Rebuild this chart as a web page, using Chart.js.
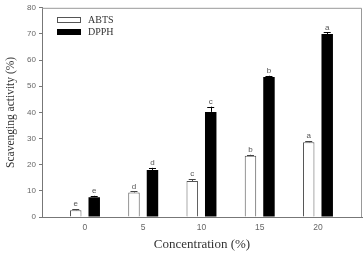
<!DOCTYPE html>
<html>
<head>
<meta charset="utf-8">
<script src="https://cdn.jsdelivr.net/npm/chart.js@4/dist/chart.umd.min.js"></script>
<style>
  html, body { margin: 0; padding: 0; background: #fff; }
  #wrap { width: 364px; height: 254px; }
</style>
</head>
<body>
<div id="wrap"><canvas id="graphique"></canvas></div>
<script>
// donnees
const concentrations = [0, 5, 10, 15, 20];
const abts = [2.6, 9.4, 13.8, 23.4, 28.6];
const abts_err = [0.4, 0.4, 0.7, 0.4, 0.4];
const abts_lettres = ['e', 'd', 'c', 'b', 'a'];
const dpph = [7.6, 18.0, 40.2, 53.5, 70.0];
const dpph_err = [0.5, 0.8, 2.0, 0.5, 0.6];
const dpph_lettres = ['e', 'd', 'c', 'b', 'a'];
const y_ticks = [0, 10, 20, 30, 40, 50, 60, 70, 80];

const graph = document.getElementById('graphique');

function getPoints(xs, ys){
  return xs.map((x, i) => ({ x: x, y: ys[i] }));
}

// barres d'erreur + lettres + cadre + legende
const extras = {
  id: 'extras',
  afterDatasetsDraw(chart){
    const ctx = chart.ctx;
    const yScale = chart.scales.y;
    const area = chart.chartArea;
    const errs = [abts_err, dpph_err];
    const lettres = [abts_lettres, dpph_lettres];
    const valeurs = [abts, dpph];
    ctx.save();
    chart.data.datasets.forEach((ds, d) => {
      const meta = chart.getDatasetMeta(d);
      meta.data.forEach((bar, i) => {
        const top = yScale.getPixelForValue(valeurs[d][i] + errs[d][i]);
        ctx.strokeStyle = d === 0 ? '#444' : '#000';
        ctx.lineWidth = 1;
        ctx.beginPath();
        ctx.moveTo(Math.round(bar.x) + 0.5, bar.y);
        ctx.lineTo(Math.round(bar.x) + 0.5, top);
        ctx.moveTo(bar.x - 3.5, Math.round(top) + 0.5);
        ctx.lineTo(bar.x + 3.5, Math.round(top) + 0.5);
        ctx.stroke();
        ctx.fillStyle = '#555';
        ctx.font = '8px "Liberation Sans", Arial, sans-serif';
        ctx.textAlign = 'center';
        ctx.textBaseline = 'bottom';
        ctx.fillText(lettres[d][i], bar.x, top - 1);
      });
    });
    // cadre
    ctx.strokeStyle = '#999';
    ctx.lineWidth = 1;
    ctx.beginPath();
    ctx.moveTo(area.left, area.top + 0.5);
    ctx.lineTo(area.right - 0.5, area.top + 0.5);
    ctx.lineTo(area.right - 0.5, area.bottom);
    ctx.stroke();
    // legende
    chart.data.datasets.forEach((ds, d) => {
      const y = 17 + d * 12;
      ctx.fillStyle = ds.backgroundColor;
      ctx.fillRect(57.5, y + 0.5, 23, 5);
      ctx.strokeStyle = d === 0 ? '#555' : '#000';
      ctx.strokeRect(57.5, y + 0.5, 23, 5);
      ctx.fillStyle = '#333';
      ctx.font = '10px "Liberation Serif", "Times New Roman", serif';
      ctx.textAlign = 'left';
      ctx.textBaseline = 'middle';
      ctx.fillText(ds.label, 88, y + 3.5);
    });
    ctx.restore();
  }
};

new Chart(graph, {
  type: 'bar',
  data: {
    datasets: [{
      label: 'ABTS',
      data: getPoints(concentrations, abts),
      backgroundColor: '#ffffff',
      borderColor: '#555',
      borderWidth: 1,
      categoryPercentage: 0.635,
      barPercentage: 0.62
    }, {
      label: 'DPPH',
      data: getPoints(concentrations, dpph),
      backgroundColor: '#000000',
      borderColor: '#000',
      borderWidth: 0,
      categoryPercentage: 0.635,
      barPercentage: 0.62
    }]
  },
  options: {
    responsive: true,
    maintainAspectRatio: false,
    animation: false,
    layout: { padding: { top: 6, right: 2, left: 0, bottom: 0 } },
    plugins: {
      legend: { display: false },
      tooltip: { enabled: false }
    },
    scales: {
      x: {
        type: 'linear',
        offset: false,
        min: -3.69,
        max: 23.78,
        afterBuildTicks: s => { s.ticks = concentrations.map(v => ({ value: v })); },
        afterFit: s => { s.height = 37; },
        grid: { display: false, drawTicks: false },
        border: { color: '#777' },
        ticks: {
          color: '#666',
          padding: 6,
          font: { size: 8.5, family: '"Liberation Sans", Arial, sans-serif' }
        },
        title: {
          display: true,
          text: 'Concentration (%)',
          color: '#333',
          padding: { top: 0, bottom: 2 },
          font: { size: 13, family: '"Liberation Serif", "Times New Roman", serif' }
        }
      },
      y: {
        min: 0,
        max: 80,
        afterBuildTicks: s => { s.ticks = y_ticks.map(v => ({ value: v })); },
        afterFit: s => { s.width = 42; },
        grid: { drawOnChartArea: false, tickLength: 3, color: '#777' },
        border: { color: '#777' },
        ticks: {
          color: '#666',
          padding: 3,
          font: { size: 8, family: '"Liberation Sans", Arial, sans-serif' }
        },
        title: {
          display: true,
          text: 'Scavenging activity (%)',
          color: '#333',
          padding: { top: 4, bottom: 0 },
          font: { size: 11.5, family: '"Liberation Serif", "Times New Roman", serif' }
        }
      }
    }
  },
  plugins: [extras]
});
</script>
</body>
</html>
